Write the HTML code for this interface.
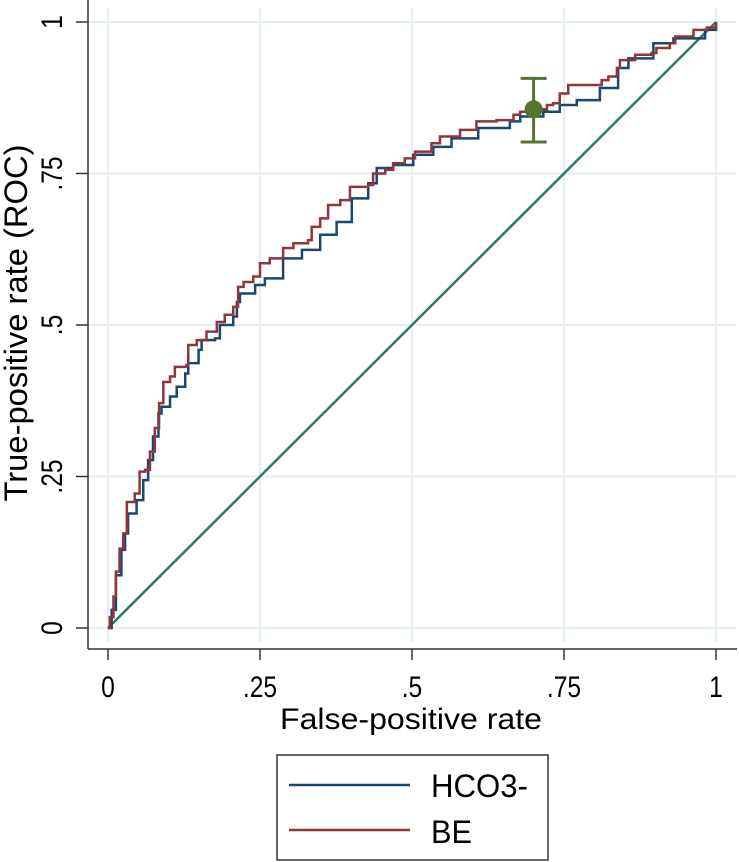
<!DOCTYPE html>
<html><head><meta charset="utf-8"><style>
html,body{margin:0;padding:0;background:#fff;}
svg{display:block;font-family:"Liberation Sans",Arial,sans-serif;}
</style></head><body>
<svg id="chart" width="739" height="862" viewBox="0 0 739 862" xmlns="http://www.w3.org/2000/svg">
<g id="grid"></g>
<g id="axes"></g>
<g id="series"></g>
<text x="27" y="323" transform="rotate(-90 27 323)" text-anchor="middle" font-size="32" textLength="357" lengthAdjust="spacingAndGlyphs" fill="#000">True-positive rate (ROC)</text>
<text x="411" y="729" text-anchor="middle" font-size="30" textLength="262" lengthAdjust="spacingAndGlyphs" fill="#000">False-positive rate</text>
<g>
<rect x="277" y="755" width="271" height="105" fill="#fff" stroke="#333" stroke-width="1.5"/>
<g>
<line x1="289" y1="785" x2="410" y2="785" stroke="#1a476f" stroke-width="2.5"/>
<text x="431" y="797" font-size="32" textLength="97" lengthAdjust="spacingAndGlyphs" fill="#000">HCO3-</text>
</g>
<g>
<line x1="289" y1="830" x2="410" y2="830" stroke="#90353b" stroke-width="2.5"/>
<text x="431" y="843" font-size="32" textLength="41" lengthAdjust="spacingAndGlyphs" fill="#000">BE</text>
</g>
</g>
</svg>
<script>
const xTicks = [0, 0.25, 0.5, 0.75, 1];
const xTickLabels = ["0", ".25", ".5", ".75", "1"];
const yTicks = [0, 0.25, 0.5, 0.75, 1];
const yTickLabels = ["0", ".25", ".5", ".75", "1"];
const hco3Fpr = [0,.006,.013,.022,.028,.033,.047,.058,.066,.074,.083,.088,.102,.113,.127,.132,.149,.154,.176,.184,.206,.212,.217,.242,.258,.288,.319,.349,.376,.401,.428,.442,.469,.502,.535,.565,.609,.661,.678,.716,.743,.771,.809,.839,.856,.897,.930,.982,1];
const hco3Tpr = [0,.030,.087,.129,.156,.189,.211,.244,.277,.316,.354,.365,.382,.398,.420,.437,.459,.475,.478,.500,.514,.538,.552,.566,.577,.610,.624,.649,.670,.709,.734,.759,.764,.781,.794,.808,.825,.836,.844,.852,.863,.871,.891,.924,.940,.965,.973,.987,1];
const beFpr = [0,.003,.009,.013,.019,.025,.031,.044,.052,.061,.069,.077,.084,.091,.102,.110,.129,.132,.146,.162,.179,.192,.206,.214,.223,.239,.250,.266,.288,.305,.329,.335,.349,.362,.382,.398,.428,.436,.456,.469,.488,.505,.532,.546,.579,.606,.639,.667,.678,.700,.722,.732,.743,.757,.812,.823,.837,.842,.867,.894,.902,.924,.933,.963,.985,1];
const beTpr = [0,.018,.052,.093,.131,.156,.208,.222,.258,.261,.291,.330,.371,.406,.415,.431,.434,.467,.475,.489,.505,.517,.530,.563,.571,.580,.602,.610,.627,.635,.640,.662,.676,.698,.706,.728,.731,.750,.756,.767,.775,.786,.800,.811,.822,.836,.838,.847,.852,.856,.863,.866,.882,.896,.904,.910,.924,.937,.946,.949,.957,.965,.976,.987,.991,1];
const refPoint = [0.70, 0.856];
const refCI = [0.802, 0.907];

const NS = "http://www.w3.org/2000/svg";
const X0 = 108, X1 = 716, Y0 = 628, Y1 = 22;
const xs = v => X0 + v * (X1 - X0);
const ys = v => Y0 - v * (Y0 - Y1);
function mk(tag, attrs, parent) {
  const e = document.createElementNS(NS, tag);
  for (const k in attrs) e.setAttribute(k, attrs[k]);
  parent.appendChild(e);
  return e;
}
const grid = document.getElementById('grid');
const axes = document.getElementById('axes');
const series = document.getElementById('series');

xTicks.forEach((t, i) => {
  const g = mk('line', {x1: xs(t), x2: xs(t), y1: 8, y2: 642, stroke: '#e4eef3', 'stroke-width': 2}, grid);
  
  
  const tk = mk('line', {x1: xs(t), x2: xs(t), y1: 649, y2: 660, stroke: '#333', 'stroke-width': 1.5}, axes);
  
  
  const lb = mk('text', {x: xs(t), y: 697, 'text-anchor': 'middle', 'font-size': 30, fill: '#000', transform: `translate(${xs(t)} 0) scale(0.82 1) translate(${-xs(t)} 0)`}, axes);
  lb.textContent = xTickLabels[i];
  
  
});
yTicks.forEach((t, i) => {
  const g = mk('line', {x1: 88, x2: 736, y1: ys(t), y2: ys(t), stroke: '#e4eef3', 'stroke-width': 2}, grid);
  
  
  const tk = mk('line', {x1: 76, x2: 88, y1: ys(t), y2: ys(t), stroke: '#333', 'stroke-width': 1.5}, axes);
  
  
  const y = ys(t);
  const lb = mk('text', {x: 0, y: 0, 'text-anchor': 'middle', 'font-size': 30, fill: '#000', transform: `translate(62 ${y}) rotate(-90) scale(0.82 1)`}, axes);
  lb.textContent = yTickLabels[i];
  
  
});
const xa = mk('line', {x1: 88, x2: 737, y1: 649, y2: 649, stroke: '#333', 'stroke-width': 1.5}, axes);


const ya = mk('line', {x1: 88, x2: 88, y1: 0, y2: 649, stroke: '#333', 'stroke-width': 1.5}, axes);



const diag = mk('line', {x1: xs(0), y1: ys(0), x2: xs(1), y2: ys(1), stroke: '#2f7a66', 'stroke-width': 2.5}, series);



function stepPath(fx, ty) {
  let d = `M${xs(fx[0])},${ys(ty[0])}`;
  for (let i = 1; i < fx.length; i++) d += ` H${xs(fx[i])} V${ys(ty[i])}`;
  return d;
}
const pb = mk('path', {d: stepPath(hco3Fpr, hco3Tpr), fill: 'none', stroke: '#1a476f', 'stroke-width': 2.5}, series);


const pr = mk('path', {d: stepPath(beFpr, beTpr), fill: 'none', stroke: '#90353b', 'stroke-width': 2.5}, series);



const eb = mk('g', {}, series);


const cx = xs(refPoint[0]);
mk('line', {x1: cx, x2: cx, y1: ys(refCI[0]), y2: ys(refCI[1]), stroke: '#55752f', 'stroke-width': 3}, eb);
mk('line', {x1: cx - 13, x2: cx + 13, y1: ys(refCI[0]), y2: ys(refCI[0]), stroke: '#55752f', 'stroke-width': 3}, eb);
mk('line', {x1: cx - 13, x2: cx + 13, y1: ys(refCI[1]), y2: ys(refCI[1]), stroke: '#55752f', 'stroke-width': 3}, eb);
const pt = mk('circle', {cx: cx, cy: ys(refPoint[1]), r: 9, fill: '#55752f'}, series);


</script>
</body></html>
